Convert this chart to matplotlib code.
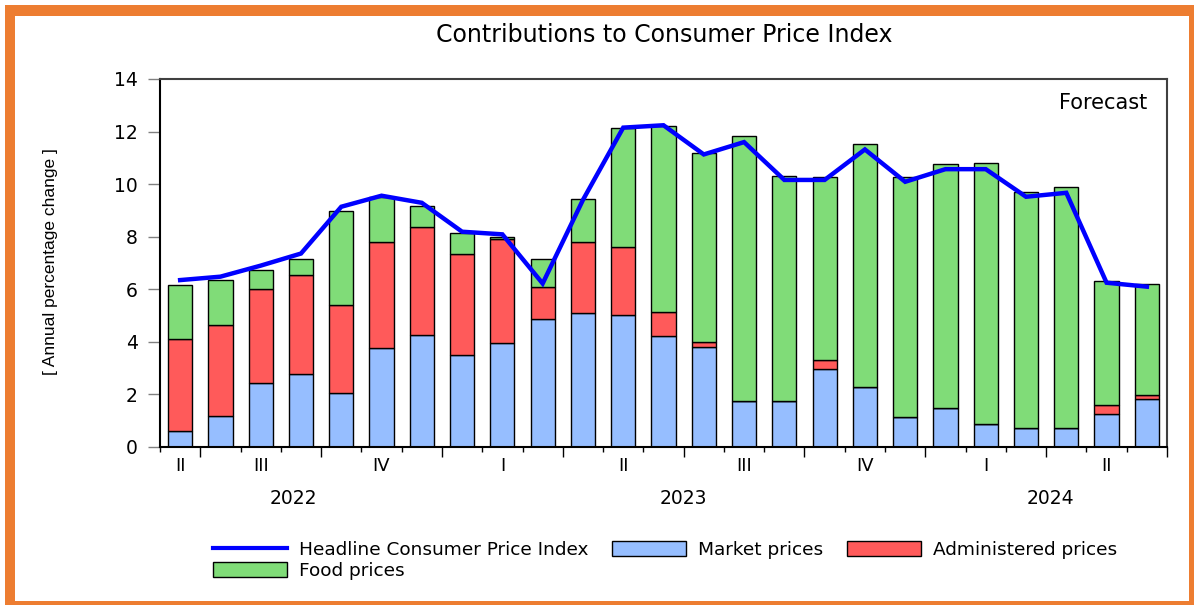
import numpy as np
import matplotlib
matplotlib.use('Agg')
import matplotlib.pyplot as plt
from matplotlib.patches import Rectangle
from matplotlib.lines import Line2D
from matplotlib.ticker import FixedLocator, NullFormatter

# monthly, Jun 2022 .. Jun 2024
months = ['2022-06', '2022-07', '2022-08', '2022-09', '2022-10', '2022-11', '2022-12',
          '2023-01', '2023-02', '2023-03', '2023-04', '2023-05', '2023-06',
          '2023-07', '2023-08', '2023-09', '2023-10', '2023-11', '2023-12',
          '2024-01', '2024-02', '2024-03', '2024-04', '2024-05', '2024-06']

market = [0.61, 1.17, 2.42, 2.76, 2.07, 3.78, 4.25, 3.49, 3.95, 4.86, 5.08, 5.02, 4.23,
          3.79, 1.74, 1.76, 2.95, 2.28, 1.13, 1.47, 0.87, 0.74, 0.71, 1.24, 1.81]
administered = [3.50, 3.49, 3.59, 3.77, 3.32, 4.01, 4.11, 3.84, 3.95, 1.21, 2.71, 2.57, 0.89,
                0.22, 0.0, 0.0, 0.35, 0.0, 0.0, 0.0, 0.0, 0.0, 0.0, 0.34, 0.15]
food = [2.06, 1.68, 0.74, 0.61, 3.60, 1.73, 0.79, 0.80, 0.08, 1.09, 1.63, 4.53, 7.10,
        7.18, 10.08, 8.55, 6.96, 9.23, 9.15, 9.28, 9.92, 8.97, 9.18, 4.75, 4.23]
headline = [6.35, 6.48, 6.90, 7.36, 9.14, 9.56, 9.29, 8.19, 8.09, 6.22, 9.40, 12.15, 12.24,
            11.13, 11.60, 10.16, 10.16, 11.32, 10.09, 10.57, 10.57, 9.52, 9.67, 6.25, 6.10]

quarter_labels = ['II', 'III', 'IV', 'I', 'II', 'III', 'IV', 'I', 'II']
quarter_pos = [0, 2, 5, 8, 11, 14, 17, 20, 23]
year_labels = ['2022', '2023', '2024']
year_pos = [2.8, 12.5, 21.6]

C_MARKET = '#96BEFF'
C_ADMIN = '#FF5A5A'
C_FOOD = '#80DC78'
C_LINE = '#0000FF'
ORANGE = '#ED7D31'

W, H = 1194, 605
fig = plt.figure(figsize=(W / 100, H / 100), dpi=100)
fig.patch.set_facecolor('white')

def px(x0, y0, x1, y1):
    """pixel box (top-left origin) -> figure fraction rect"""
    return [x0 / W, 1 - y1 / H, (x1 - x0) / W, (y1 - y0) / H]

ax = fig.add_axes(px(160, 79, 1167, 447))

x = np.arange(len(months))
m = np.array(market)
a = np.array(administered)
f = np.array(food)
bw = 0.6
ax.bar(x, m, bw, color=C_MARKET, edgecolor='black', linewidth=1, zorder=2)
ax.bar(x, a, bw, bottom=m, color=C_ADMIN, edgecolor='black', linewidth=1, zorder=2)
ax.bar(x, f, bw, bottom=m + a, color=C_FOOD, edgecolor='black', linewidth=1, zorder=2)
ax.plot(x, headline, color=C_LINE, linewidth=3.2, zorder=3, solid_joinstyle='miter')

ax.set_xlim(-0.5, len(months) - 0.5)
ax.set_ylim(0, 14)
ax.set_yticks(np.arange(0, 15, 2))
ax.set_yticklabels([str(v) for v in range(0, 15, 2)], fontsize=13.5, family='DejaVu Sans')
ax.tick_params(axis='y', direction='out', length=9, width=1, color='#808080', pad=7)

# month ticks short, quarter boundaries long
bounds = np.arange(-0.5, len(months), 1.0)
qb = [b for b in bounds if (b - 0.5) % 3 == 0]
ax.xaxis.set_major_locator(FixedLocator(qb))
ax.xaxis.set_minor_locator(FixedLocator([b for b in bounds if b not in qb]))
ax.xaxis.set_major_formatter(NullFormatter())
ax.tick_params(axis='x', which='major', direction='out', length=7, width=1, color='black')
ax.tick_params(axis='x', which='minor', direction='out', length=3.5, width=1, color='black')

xt = ax.get_xaxis_transform()
for lab, p in zip(quarter_labels, quarter_pos):
    ax.text(p, -19 / 368, lab, transform=xt, ha='center', va='center',
            fontsize=13, family='DejaVu Sans')
for lab, p in zip(year_labels, year_pos):
    ax.text(p, -51 / 368, lab, transform=xt, ha='center', va='center',
            fontsize=13.5, family='DejaVu Sans')

for s in ['left', 'bottom']:
    ax.spines[s].set_color('black')
for s in ['top', 'right']:
    ax.spines[s].set_color('#404040')
for s in ax.spines.values():
    s.set_linewidth(1.5)

ax.text(0.98, 0.935, 'Forecast', transform=ax.transAxes, ha='right', va='center',
        fontsize=15, family='DejaVu Sans')

fig.text(664 / W, 1 - 35 / H, 'Contributions to Consumer Price Index', ha='center', va='center',
         fontsize=17, family='DejaVu Sans')
fig.text(50 / W, 1 - 262 / H, '[ Annual percentage change ]', rotation=90, ha='center', va='center',
         fontsize=12.5, family=['Liberation Sans', 'DejaVu Sans'])

# legend, row-major order trick
handles = [Line2D([], [], color=C_LINE, linewidth=3),
           Rectangle((0, 0), 1, 1, facecolor=C_FOOD, edgecolor='black', linewidth=1),
           Rectangle((0, 0), 1, 1, facecolor=C_MARKET, edgecolor='black', linewidth=1),
           Rectangle((0, 0), 1, 1, facecolor=C_ADMIN, edgecolor='black', linewidth=1)]
labels = ['Headline Consumer Price Index', 'Food prices', 'Market prices', 'Administered prices']
fig.legend(handles, labels, ncol=3, frameon=False, loc='upper left',
           bbox_to_anchor=(213 / W, 1 - 541 / H), borderpad=0, borderaxespad=0,
           prop={'family': 'DejaVu Sans', 'size': 13.3}, handlelength=4.0,
           handleheight=0.85, handletextpad=0.65, columnspacing=1.3, labelspacing=0.15)

# orange frame
for r in [px(5, 5, W, 16), px(5, 5, 15, H), px(1189, 5, W, H), px(5, 601, W, H)]:
    fig.add_artist(Rectangle((r[0], r[1]), r[2], r[3], transform=fig.transFigure,
                             facecolor=ORANGE, edgecolor='none', zorder=10))

fig.savefig('out.png', dpi=100)
